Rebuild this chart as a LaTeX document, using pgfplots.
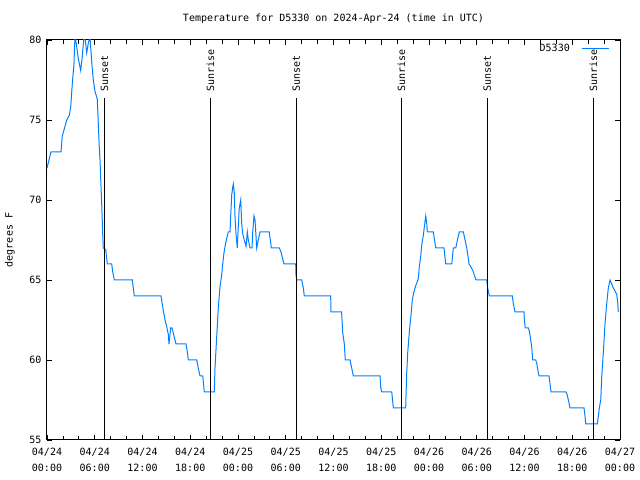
\documentclass[border=0pt]{standalone}
\usepackage{fontspec}
\setmainfont{DejaVu Sans Mono}
\usepackage{pgfplots}
\pgfplotsset{compat=1.18}
\definecolor{dline}{RGB}{0,128,255}
\pgfplotstableread{
h T
0.00 72.0
0.50 73
1.76 73
1.92 74
2.26 74.6
2.48 75
2.80 75.3
2.98 75.8
3.10 76.7
3.23 77.6
3.39 78.5
3.52 80.3
3.73 79.6
3.93 78.85
4.23 78.1
4.44 79
4.69 80.5
4.99 79.2
5.19 79.8
5.40 80.2
5.62 78.6
5.82 77.5
6.03 76.8
6.32 76.3
6.57 73.3
6.66 72.5
6.87 69.8
7.00 67.9
7.07 67
7.38 66.9
7.58 66
8.13 66
8.26 65.5
8.46 65
10.72 65
10.97 64
14.33 64
14.45 63.6
14.61 63.1
14.83 62.5
15.04 62.1
15.24 61.6
15.33 61
15.54 62
15.71 62
15.96 61.5
16.21 61
17.47 61
17.63 60.5
17.76 60
18.81 60
19.01 59.5
19.23 59
19.57 59
19.77 58
21.02 58
21.11 59.5
21.33 61.5
21.53 63.3
21.74 64.6
21.95 65.3
22.08 66
22.24 66.7
22.37 67.1
22.58 67.6
22.78 68
23.00 68
23.08 69
23.21 70.3
23.34 70.8
23.41 71
23.54 70.4
23.62 69
23.75 67.9
23.91 67
24.04 68.4
24.16 69.5
24.34 70
24.47 68.5
24.59 67.9
24.79 67.5
25.01 67.1
25.17 68
25.30 67.5
25.51 67
25.76 67
25.85 68
26.01 69
26.14 68.75
26.35 67
26.55 67.5
26.77 68
27.93 68
28.19 67
29.19 67
29.37 66.8
29.53 66.5
29.78 66
31.25 66
31.29 65.3
31.38 65
32.01 65
32.21 64.5
32.33 64
35.65 64
35.67 63
37.02 63
37.07 62.5
37.16 61.7
37.36 61
37.48 60
38.08 60
38.33 59.4
38.49 59
41.85 59
41.93 58.3
42.06 58
43.32 58
43.44 57.4
43.52 57
45.07 57
45.11 57.7
45.20 59.2
45.33 60.5
45.49 61.5
45.62 62.25
45.74 62.8
45.90 63.75
46.08 64.2
46.24 64.5
46.37 64.7
46.53 64.9
46.66 65.1
46.78 65.8
46.96 66.5
47.09 67.2
47.29 67.8
47.41 68.3
47.59 69
47.72 68.5
47.79 68
48.54 68
48.70 67.5
48.85 67
49.89 67
49.99 66.5
50.10 66
50.86 66
50.96 66.5
51.06 67
51.36 67
51.49 67.3
51.61 67.6
51.81 68
52.32 68
52.44 67.7
52.62 67.3
52.74 67
52.87 66.6
53.03 66
53.28 65.8
53.50 65.6
53.70 65.3
53.91 65
55.25 65
55.38 64.5
55.58 64
58.47 64
58.60 63.5
58.81 63
59.94 63
59.98 62.5
60.10 62
60.48 62
60.61 61.8
60.78 61.25
60.91 60.8
61.03 60
61.41 60
61.54 59.8
61.66 59.4
61.83 59
63.08 59
63.21 58.5
63.33 58
65.22 58
65.38 57.8
65.51 57.5
65.72 57
67.48 57
67.60 56.5
67.69 56
69.15 56
69.28 56.5
69.40 57
69.58 57.5
69.71 59
69.91 60.5
70.12 62.3
70.33 63.5
70.53 64.5
70.75 65
70.96 64.75
71.16 64.5
71.38 64.3
71.59 64.1
71.71 63.6
71.79 63
}\datatable
\begin{document}
\begin{tikzpicture}[font=\fontsize{10bp}{12bp}\selectfont]
\begin{axis}[name=ax, at={(0,0)}, anchor=south west,
  scale only axis, width=573bp, height=400bp,
  xmin=0, xmax=72, ymin=55, ymax=80,
  xtick={0,6,...,72}, minor xtick={2,4,...,70},
  xticklabels={{04/24\\00:00},{04/24\\06:00},{04/24\\12:00},{04/24\\18:00},{04/25\\00:00},{04/25\\06:00},{04/25\\12:00},{04/25\\18:00},{04/26\\00:00},{04/26\\06:00},{04/26\\12:00},{04/26\\18:00},{04/27\\00:00}},
  xticklabel style={align=center, font=\fontsize{10bp}{16bp}\selectfont, yshift=-5bp},
  ytick={55,60,...,80},
  yticklabel style={xshift=-2bp},
  /pgf/number format/assume math mode=true,
  tick align=inside, major tick length=5bp, minor tick length=4bp,
  axis line style={line width=1bp},
  every tick/.style={black, line width=0.8bp},
  title={Temperature for D5330 on 2024-Apr-24 (time in UTC)},
  title style={at={(0.5,1)}, anchor=south, yshift=7bp},
  ylabel={degrees F},
  ylabel style={at={(axis description cs:-0.0646,0.5)}, anchor=center, rotate=0},
  legend plot pos=right,
  legend style={draw=none, fill=none, at={(1,1)}, anchor=north east, xshift=-10bp, yshift=-2bp, inner sep=0pt, font=\fontsize{10bp}{12bp}\selectfont},
  legend image code/.code={\path (0bp,0bp); \draw[#1] (10bp,0bp) -- (37bp,0bp);},
]
\addplot[dline, line width=1bp] table[x=h, y=T] {\datatable};
\addlegendentry{D5330}
\addplot[black, line width=1bp, forget plot] coordinates {(7.23,55) (7.23,76.35)};
\addplot[black, line width=1bp, forget plot] coordinates {(20.52,55) (20.52,76.35)};
\addplot[black, line width=1bp, forget plot] coordinates {(31.33,55) (31.33,76.35)};
\addplot[black, line width=1bp, forget plot] coordinates {(44.52,55) (44.52,76.35)};
\addplot[black, line width=1bp, forget plot] coordinates {(55.33,55) (55.33,76.35)};
\addplot[black, line width=1bp, forget plot] coordinates {(68.65,55) (68.65,76.35)};
\node[rotate=90, anchor=west, inner sep=0pt] at (axis cs:7.23,76.75) {Sunset};
\node[rotate=90, anchor=west, inner sep=0pt] at (axis cs:20.52,76.75) {Sunrise};
\node[rotate=90, anchor=west, inner sep=0pt] at (axis cs:31.33,76.75) {Sunset};
\node[rotate=90, anchor=west, inner sep=0pt] at (axis cs:44.52,76.75) {Sunrise};
\node[rotate=90, anchor=west, inner sep=0pt] at (axis cs:55.33,76.75) {Sunset};
\node[rotate=90, anchor=west, inner sep=0pt] at (axis cs:68.65,76.75) {Sunrise};
\end{axis}
\pgfresetboundingbox
\path (ax.south west) ++(-47bp,-40bp) rectangle ++(640bp,480bp);
\end{tikzpicture}
\end{document}
